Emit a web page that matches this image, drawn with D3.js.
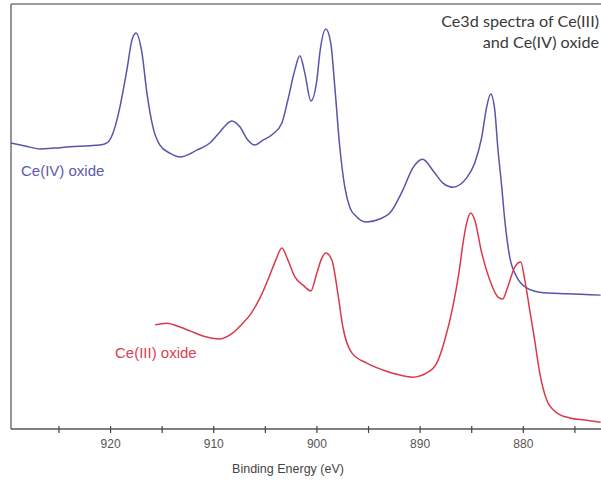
<!DOCTYPE html>
<html><head><meta charset="utf-8">
<script src="https://cdn.jsdelivr.net/npm/d3@7"></script>
<style>body{margin:0;background:#fff}svg{display:block}</style>
</head><body>
<svg id="c" width="601" height="481"></svg>
<script>
// Ce(IV) oxide spectrum: binding energy (eV) and intensity (a.u.)
const ce4Energy = [929.60,928.24,926.79,925.34,923.89,922.43,920.98,920.30,919.72,919.04,918.37,917.88,917.49,916.91,916.43,915.85,915.17,914.20,913.23,911.59,910.33,909.36,908.20,907.42,906.65,905.97,905.29,904.22,903.35,902.77,902.09,901.61,901.13,900.54,899.96,899.67,899.09,898.61,898.22,897.74,897.25,896.77,896.09,895.12,893.86,892.89,891.63,890.67,889.70,888.73,887.76,886.79,885.44,884.66,883.98,883.50,883.11,882.72,882.43,882.04,881.75,881.27,880.59,879.62,878.37,875.75,872.46];
const ce4Intensity = [67.3,66.6,65.9,66.1,66.4,66.6,66.8,67.3,69.6,75.8,84.5,91.5,93.2,88.5,79.1,71.1,66.8,64.9,64.0,65.6,67.3,69.9,72.5,71.1,68.0,66.8,67.8,69.4,72.0,77.4,84.5,87.8,83.8,77.2,82.1,88.5,94.1,90.8,80.5,66.4,56.9,52.2,49.9,48.7,49.4,50.8,56.2,61.4,63.5,60.9,57.9,56.9,59.1,62.6,68.7,75.8,78.8,75.1,66.4,56.9,49.2,40.5,35.8,33.2,32.2,31.8,31.5];
// Ce(III) oxide spectrum
const ce3Energy = [915.65,914.49,913.23,912.26,911.00,909.36,908.10,907.13,906.45,905.48,904.52,903.93,903.35,902.77,902.09,901.32,900.54,899.96,899.48,899.09,898.51,897.93,897.44,896.57,895.12,893.57,891.92,890.67,889.31,888.34,887.57,886.79,886.11,885.82,885.44,885.05,884.66,883.98,883.21,882.43,881.95,881.46,880.78,880.20,879.81,879.33,878.85,878.36,877.68,876.71,875.45,874.00,872.46];
const ce3Intensity = [24.5,24.9,24.0,23.1,21.9,21.2,22.6,24.9,26.8,30.8,36.2,39.8,42.6,39.8,35.8,33.9,32.5,36.7,40.2,41.4,39.8,32.0,24.0,17.9,15.5,13.9,12.7,12.2,13.2,15.5,20.9,28.7,38.1,43.3,48.5,50.8,49.2,41.4,35.1,31.1,30.6,33.4,38.1,39.3,35.1,28.0,20.9,13.2,6.8,3.8,2.6,2.1,1.6];
const tickValues = [925,920,915,910,905,900,895,890,885,880,875];
const tickLabels = [920,910,900,890,880];
const seriesNames = ["Ce(IV) oxide","Ce(III) oxide"];
const titleLines = ["Ce3d spectra of Ce(III)","and Ce(IV) oxide"];
const xTitle = "Binding Energy (eV)";

const svg = d3.select("#c");
const L = 11, T = 4, B = 429, R = 626;
const x = d3.scaleLinear().domain([929.6, 870]).range([L, R]);
const y = d3.scaleLinear().domain([0, 100]).range([B, T]);

// frame
svg.append("line").attr("x1",L).attr("x2",601).attr("y1",T).attr("y2",T)
  .attr("stroke","#7a7a7a").attr("stroke-width",1.6);
svg.append("line").attr("x1",L).attr("x2",L).attr("y1",T).attr("y2",B)
  .attr("stroke","#7a7a7a").attr("stroke-width",1.6);

// axis
const ax = svg.append("g").attr("transform",`translate(0,${B})`)
  .call(d3.axisBottom(x).tickValues(tickValues).tickSizeOuter(0).tickSize(3)
    .tickFormat(d => tickLabels.includes(d) ? d3.format("d")(d) : ""));
ax.select(".domain").attr("d",`M${L},0H601`).attr("stroke","#555").attr("stroke-width",1.4);
ax.selectAll(".tick line").attr("y1",-3).attr("y2",4).attr("stroke","#444").attr("stroke-width",1.2);
ax.selectAll(".tick text").attr("y",10).attr("dy","0.71em")
  .attr("font-family","Liberation Sans, Arial, sans-serif").attr("font-size",12).attr("fill","#555");

svg.append("text").attr("x",288).attr("y",473).attr("text-anchor","middle")
  .attr("font-family","Liberation Sans, Arial, sans-serif").attr("font-size",12.5)
  .attr("fill","#444").text(xTitle);

const line = d3.line().curve(d3.curveMonotoneX);
const ce4 = ce4Energy.map((e,i)=>[x(e), y(ce4Intensity[i])]);
const ce3 = ce3Energy.map((e,i)=>[x(e), y(ce3Intensity[i])]);
const blue = "#5656aa", red = "#d93a4a";
svg.append("path").attr("d",line(ce4)).attr("fill","none").attr("stroke",blue).attr("stroke-width",1.5);
svg.append("path").attr("d",line(ce3)).attr("fill","none").attr("stroke",red).attr("stroke-width",1.5);

svg.append("text").attr("x",21).attr("y",176).attr("font-family","Liberation Sans, Arial, sans-serif")
  .attr("font-size",15).attr("fill","#5a5ab0").text(seriesNames[0]);
svg.append("text").attr("x",115).attr("y",358).attr("font-family","Liberation Sans, Arial, sans-serif")
  .attr("font-size",15).attr("fill","#dd4050").text(seriesNames[1]);

svg.selectAll(".title").data(titleLines).enter().append("text")
  .attr("x",599).attr("y",(d,i)=>27+i*21).attr("text-anchor","end")
  .attr("font-family","Lato, Open Sans, sans-serif").attr("font-size",16.2)
  .attr("fill","#3a3a3a").text(d=>d);
</script>
</body></html>
